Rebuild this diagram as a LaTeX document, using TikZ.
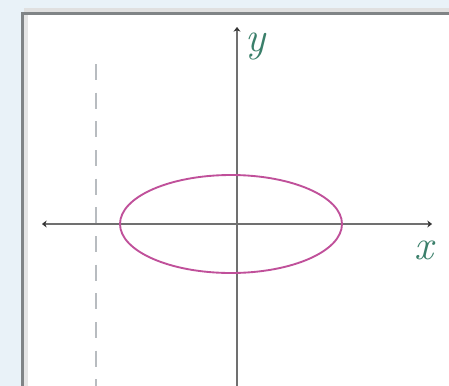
\documentclass[tikz,border=0pt]{standalone}
\usepackage{xcolor}
\usepackage{tikz}
\usetikzlibrary{arrows.meta, positioning}

\definecolor{panelbg}{RGB}{233,242,248}
\definecolor{framegray}{RGB}{128,132,134}
\definecolor{axisgray}{RGB}{112,112,112}
\definecolor{dashgray}{RGB}{184,188,192}
\definecolor{curvepink}{RGB}{192,80,154}
\definecolor{labelgreen}{RGB}{58,127,106}

\begin{document}
\begin{tikzpicture}[
    x=0.03cm, y=-0.03cm,
    axis/.style={draw=axisgray, line width=1.7pt, {Stealth[length=4pt,width=6pt,black!80]}-{Stealth[length=4pt,width=6pt,black!80]}},
    asymptote/.style={draw=dashgray, line width=2.4pt, dash pattern=on 0.48cm off 0.38cm},
    curve/.style={draw=curvepink, line width=1.6pt},
    axislabel/.style={text=labelgreen, inner sep=0pt, font=\fontsize{36}{36}\selectfont\itshape}
]
    \useasboundingbox (0,0) rectangle (449,385);
    \fill[panelbg] (-2,-2) rectangle (452,388);
    \fill[black!12] (24,8) rectangle (452,15);
    \fill[black!10] (24,15) rectangle (28,388);
    \fill[white] (28,15) rectangle (452,388);
    \draw[framegray, line width=2.5pt] (22.5,388) -- (22.5,13.5) -- (452,13.5);

    \coordinate (xleft) at (42,224);
    \coordinate (xright) at (432,224);
    \coordinate (ytop) at (237,27);
    \coordinate (ybot) at (237,388);
    \coordinate (dtop) at (96,64);
    \coordinate (dbot) at (96,388);

    \draw[asymptote] (dtop) -- (dbot);
    \draw[axis] (xleft) -- (xright);
    \draw[axis, {}-{Stealth[length=4pt,width=6pt,black!80]}] (ybot) -- (ytop);

    \node[axislabel] (ylabel) at (256,46) {y};
    \node[axislabel] (xlabel) at (424,250) {x};

    \draw[curve] (231,224) ellipse [x radius=111, y radius=49];
\end{tikzpicture}
\end{document}
